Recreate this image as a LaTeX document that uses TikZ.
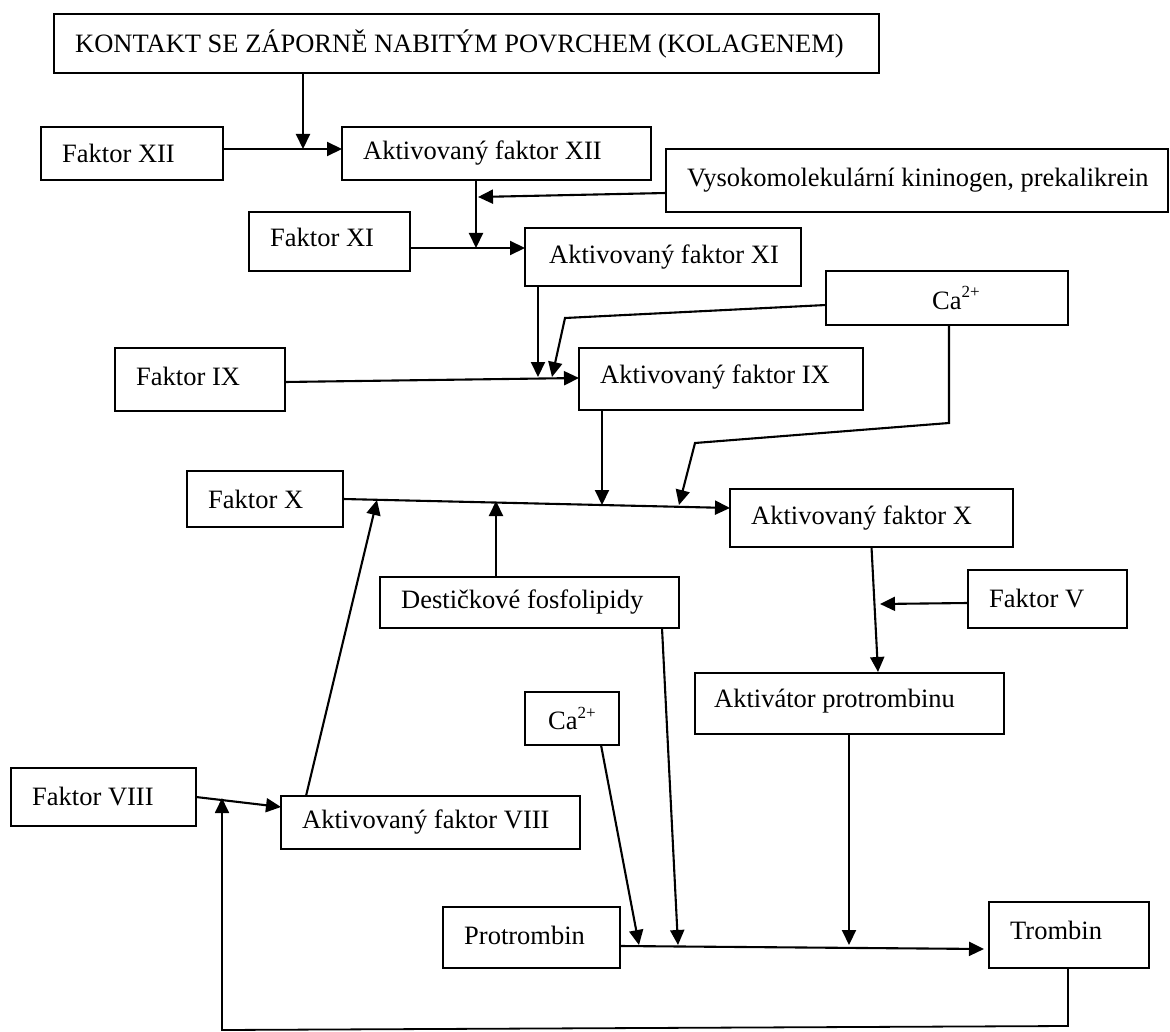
\documentclass[tikz,border=0pt]{standalone}
\usepackage{fontspec}
\setmainfont{Liberation Serif}
\usetikzlibrary{arrows.meta}
\newcommand{\diafont}{\fontsize{26.5pt}{30pt}\selectfont}
\newcommand{\casup}{Ca\raisebox{0.42em}{\fontsize{17pt}{17pt}\selectfont 2+}}
\begin{document}
\begin{tikzpicture}[x={(1pt,0)}, y={(0,-1pt)},
  box/.style={draw, line width=1.6pt, rectangle, anchor=north west, inner sep=0pt, outer sep=0pt, font=\diafont},
  lbl/.style={anchor=west, inner sep=0pt, xshift=21pt, font=\diafont},
  arr/.style={line width=2.1pt, -{Triangle[length=15pt,width=14pt]}},
  retline/.style={line width=1.8pt, -{Triangle[length=15pt,width=14pt]}}]
\useasboundingbox[fill=white] (0,0) rectangle (1170,1032);

% boxes
\node[box, minimum width=825pt, minimum height=59pt, label={[lbl]west:KONTAKT SE ZÁPORNĚ NABITÝM POVRCHEM (KOLAGENEM)}] (k) at (54,14) {};
\node[box, minimum width=182pt, minimum height=53pt, label={[lbl]west:Faktor XII}] (f12) at (41,127) {};
\node[box, minimum width=309pt, minimum height=53pt, label={[lbl]west:Aktivovaný faktor XII}] (a12) at (342,127) {};
\node[box, minimum width=502pt, minimum height=63pt, label={[lbl]west:{Vysokomolekulární kininogen, prekalikrein}}] (v) at (666,149) {};
\node[box, minimum width=161pt, minimum height=59pt, label={[lbl,yshift=4pt]west:Faktor XI}] (f11) at (249,212) {};
\node[box, minimum width=276pt, minimum height=58pt, label={[lbl,xshift=3pt]west:Aktivovaný faktor XI}] (a11) at (525,228) {};
\node[box, minimum width=242pt, minimum height=54pt] (ca1) at (826,271) {\hspace*{18pt}\casup};
\node[box, minimum width=170pt, minimum height=63pt, label={[lbl,yshift=3pt]west:Faktor IX}] (f9) at (115,348) {};
\node[box, minimum width=284pt, minimum height=62pt, label={[lbl,yshift=2pt]west:Aktivovaný faktor IX}] (a9) at (579,348) {};
\node[box, minimum width=156pt, minimum height=56pt, label={[lbl]west:Faktor X}] (f10) at (187,471) {};
\node[box, minimum width=283pt, minimum height=58pt, label={[lbl]west:Aktivovaný faktor X}] (a10) at (730,489) {};
\node[box, minimum width=299pt, minimum height=51pt, label={[lbl]west:Destičkové fosfolipidy}] (d) at (380,577) {};
\node[box, minimum width=159pt, minimum height=58pt, label={[lbl]west:Faktor V}] (fv) at (968,570) {};
\node[box, minimum width=309pt, minimum height=61pt, label={[lbl,xshift=-2pt,yshift=2pt]west:Aktivátor protrombinu}] (ap) at (695,673) {};
\node[box, minimum width=94pt, minimum height=53pt] (ca2) at (525,692) {\casup};
\node[box, minimum width=185pt, minimum height=58pt, label={[lbl]west:Faktor VIII}] (f8) at (11,768) {};
\node[box, minimum width=299pt, minimum height=53pt, label={[lbl]west:Aktivovaný faktor VIII}] (a8) at (281,796) {};
\node[box, minimum width=177pt, minimum height=61pt, label={[lbl,yshift=2pt]west:Protrombin}] (p) at (443,907) {};
\node[box, minimum width=160pt, minimum height=66pt, label={[lbl,yshift=5pt]west:Trombin}] (t) at (989,902) {};

% junction coordinates
\coordinate (j1) at (303,149);
\coordinate (j2) at (476,248);
\coordinate (j2b) at (478,197);
\coordinate (j4) at (538,377);
\coordinate (c1a) at (565,318);
\coordinate (j5) at (552,377);
\coordinate (j6) at (602,505);
\coordinate (c1b) at (949,423);
\coordinate (c1c) at (695,443);
\coordinate (j7) at (679,505);
\coordinate (j8) at (377,500);
\coordinate (j9) at (496,501);
\coordinate (j10) at (878,672);
\coordinate (j11) at (880,604);
\coordinate (j12) at (678,945);
\coordinate (j13) at (639,945);
\coordinate (j14) at (849,945);
\coordinate (b1) at (1068,1026);
\coordinate (b2) at (222,1030);
\coordinate (j15) at (222,798);

% connectors
\draw[arr] (k.south -| j1) -- (j1);
\draw[arr] (f12.east |- j1) -- (a12.west |- j1);
\draw[arr] (a12.south -| j2) -- (j2);
\draw[arr] ([yshift=-12.5pt]v.west) -- (j2b);
\draw[arr] (f11.east |- j2) -- (a11.west |- j2);
\draw[arr] (a11.south -| j4) -- (j4);
\draw[arr] ([yshift=-7pt]ca1.west) -- (c1a) -- (j5);
\draw[arr] ([yshift=-2.5pt]f9.east) -- ([yshift=1pt]a9.west);
\draw[arr] (a9.south -| j6) -- (j6);
\draw[arr] (ca1.south -| c1b) -- (c1b) -- (c1c) -- (j7);
\draw[arr] (f10.east) -- ([yshift=10pt]a10.west);
\draw[arr] ([xshift=25pt]a8.north west) -- (j8);
\draw[arr] (d.north -| j9) -- (j9);
\draw[arr] (a10.south) -- (j10);
\draw[arr] ([yshift=-4pt]fv.west) -- (j11);
\draw[arr] ([xshift=-17pt]d.south east) -- (j12);
\draw[arr] ([xshift=-18pt]ca2.south east) -- (j13);
\draw[arr] (ap.south -| j14) -- (j14);
\draw[arr] ([yshift=-8.5pt]p.east) -- ([xshift=-5pt,yshift=-14pt]t.west);
\draw[retline] (t.south -| b1) -- (b1) -- (b2) -- (j15);
\draw[arr] (f8.east) -- ([yshift=15.5pt]a8.west);
\end{tikzpicture}
\end{document}
